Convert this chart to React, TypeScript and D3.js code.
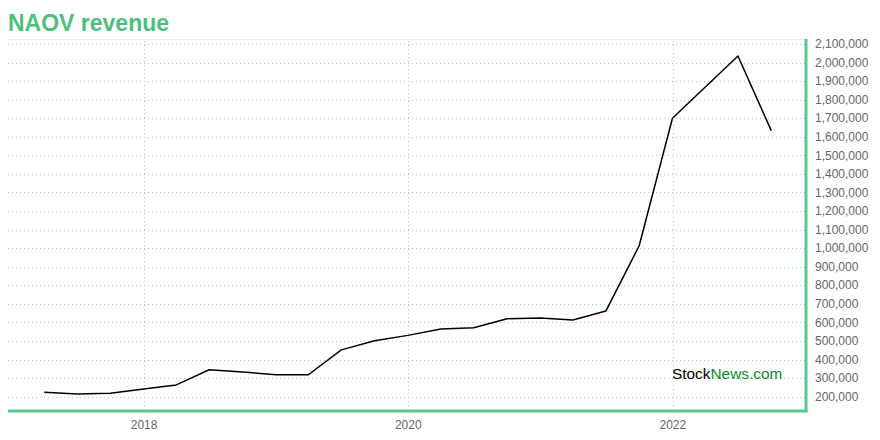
import React from "react";
import * as d3 from "d3";

const dates: string[] = [
  "2017-03-31", "2017-06-30", "2017-09-30", "2017-12-31",
  "2018-03-31", "2018-06-30", "2018-09-30", "2018-12-31",
  "2019-03-31", "2019-06-30", "2019-09-30", "2019-12-31",
  "2020-03-31", "2020-06-30", "2020-09-30", "2020-12-31",
  "2021-03-31", "2021-06-30", "2021-09-30", "2021-12-31",
  "2022-06-30", "2022-09-30",
];
const revenue: number[] = [
  223000, 214000, 218000, 241000,
  263000, 345000, 333000, 318000,
  318000, 452000, 501000, 530000,
  564000, 571000, 620000, 624000,
  613000, 661000, 1013000, 1700000,
  2035000, 1633000,
];
const yTicks: number[] = [
  200000, 300000, 400000, 500000, 600000, 700000, 800000, 900000, 1000000,
  1100000, 1200000, 1300000, 1400000, 1500000, 1600000, 1700000, 1800000,
  1900000, 2000000, 2100000,
];
const xTicks: string[] = ["2018-01-01", "2020-01-01", "2022-01-01"];
const xDomain: string[] = ["2016-12-21", "2023-01-04"];
const yDomain: number[] = [128000, 2116000];
const title = "NAOV revenue";

const W = 880;
const H = 440;
const left = 8;
const right = 806;
const top = 41;
const bottom = 410;

export default function App() {
  const parse = d3.timeParse("%Y-%m-%d");
  const x = d3
    .scaleTime()
    .domain(xDomain.map((d) => parse(d) as Date))
    .range([left, right]);
  const y = d3.scaleLinear().domain(yDomain).range([bottom, top]);
  const data = dates.map((d, i) => ({ date: parse(d) as Date, v: revenue[i] }));
  const line = d3
    .line<{ date: Date; v: number }>()
    .x((d) => x(d.date))
    .y((d) => y(d.v));
  const fmt = d3.format(",");
  const font = "'Liberation Sans', Arial, Helvetica, sans-serif";
  const gridColor = "#8fdcb0";
  const axisGreen = "#5cc78b";

  return (
    <svg
      width={W}
      height={H}
      style={{ position: "absolute", left: 0, top: 0, display: "block" }}
      fontFamily={font}
    >
      <rect x={0} y={0} width={W} height={H} fill="#fff" />
      <text x={8} y={30.5} fontSize={23} fontWeight="bold" fill="#4cbf7c">
        {title}
      </text>
      <line x1={left} x2={right} y1={top - 1.5} y2={top - 1.5} stroke="#eeeeee" strokeWidth={1} />
      {yTicks.map((t) => (
        <line
          key={"gy" + t}
          x1={left}
          x2={right}
          y1={Math.round(y(t)) + 0.5}
          y2={Math.round(y(t)) + 0.5}
          stroke={gridColor}
          strokeWidth={1}
          strokeDasharray="1,3"
        />
      ))}
      {xTicks.map((t) => {
        const xx = Math.round(x(parse(t) as Date)) + 0.5;
        return (
          <line
            key={"gx" + t}
            x1={xx}
            x2={xx}
            y1={top}
            y2={bottom}
            stroke={gridColor}
            strokeWidth={1}
            strokeDasharray="1,3"
          />
        );
      })}
      <text x={672} y={379} fontSize={15.4} fill="#000">
        Stock<tspan fill="#0a8a2a">News.com</tspan>
      </text>
      <path d={line(data) || ""} fill="none" stroke="#000" strokeWidth={1.5} strokeLinejoin="round" />
      <line x1={left} x2={right + 1.5} y1={bottom + 1} y2={bottom + 1} stroke={axisGreen} strokeWidth={3} />
      <line x1={right} x2={right} y1={top - 2} y2={bottom + 2.5} stroke={axisGreen} strokeWidth={3} />
      {yTicks.map((t) => (
        <text
          key={"ty" + t}
          x={815}
          y={y(t)}
          dy="0.35em"
          fontSize={12}
          fill="#666"
        >
          {fmt(t)}
        </text>
      ))}
      {xTicks.map((t) => (
        <text
          key={"tx" + t}
          x={x(parse(t) as Date)}
          y={428.5}
          fontSize={12}
          fill="#666"
          textAnchor="middle"
        >
          {t.slice(0, 4)}
        </text>
      ))}
    </svg>
  );
}
